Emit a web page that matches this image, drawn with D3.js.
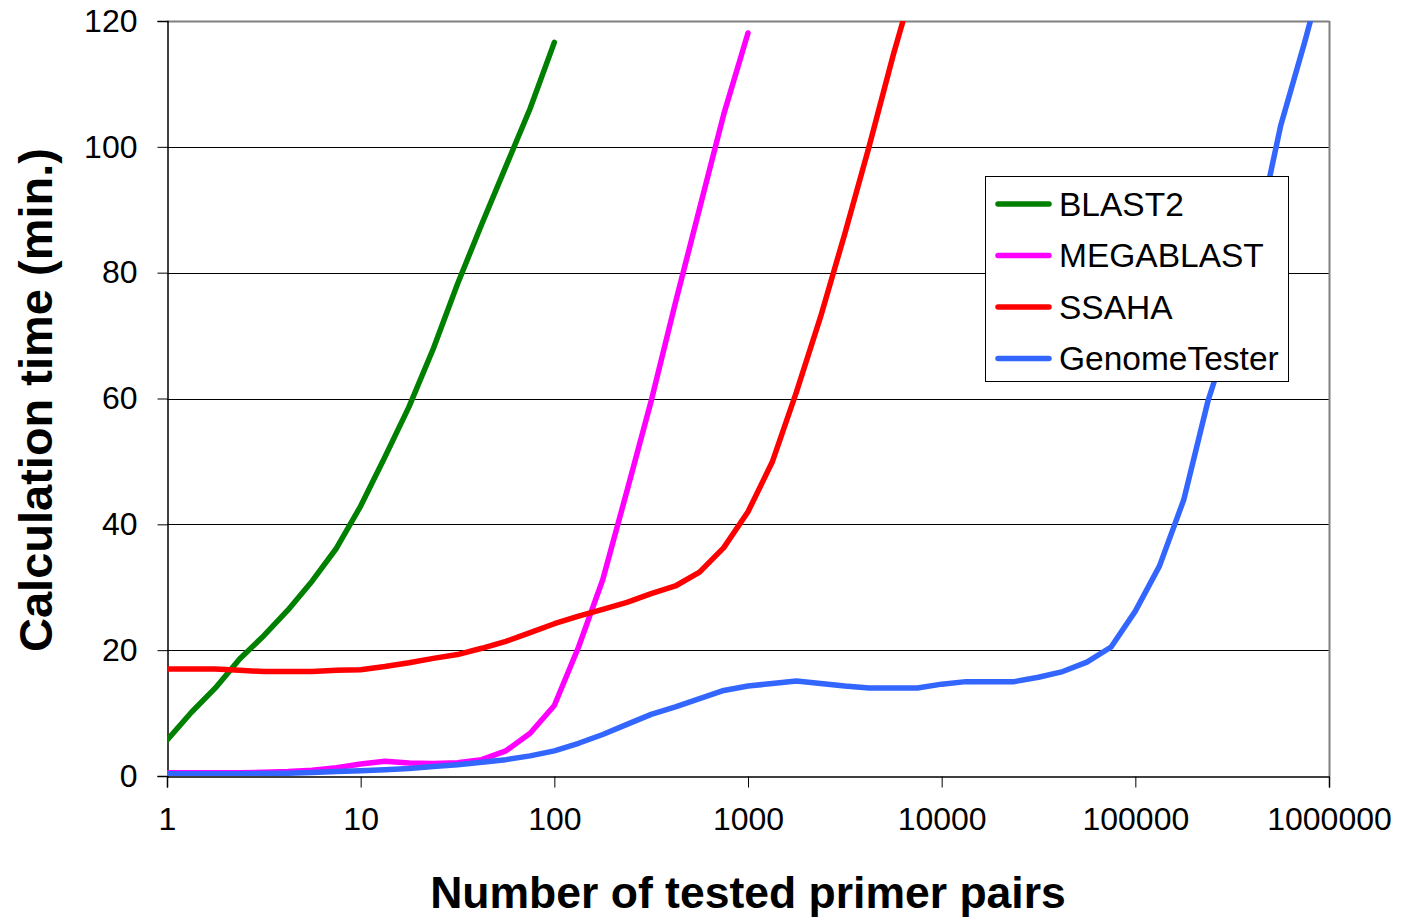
<!DOCTYPE html>
<html>
<head>
<meta charset="utf-8">
<script src="https://cdn.jsdelivr.net/npm/d3@7"></script>
<style>
  html, body { margin: 0; padding: 0; background: #fff; }
  svg { display: block; font-family: "Liberation Sans", Arial, sans-serif; }
</style>
</head>
<body>
<svg id="chart" width="1401" height="918"></svg>
<script>
// ---- data ----
const seriesNames = ["BLAST2", "MEGABLAST", "SSAHA", "GenomeTester"];
const seriesColors = ["#008000", "#FF00FF", "#FF0000", "#3366FF"];
const xValues = [1, 1.334, 1.778, 2.371, 3.162, 4.217, 5.623, 7.499,
  10, 13.34, 17.78, 23.71, 31.62, 42.17, 56.23, 74.99,
  100, 133.4, 177.8, 237.1, 316.2, 421.7, 562.3, 749.9,
  1000, 1334, 1778, 2371, 3162, 4217, 5623, 7499,
  10000, 13335, 17783, 23714, 31623, 42170, 56234, 74989,
  100000, 133352, 177828, 237137, 316228, 421697, 562341, 749894, 1000000];
const blast2 = [5.7, 10.1, 14.0, 18.6, 22.3, 26.4, 31.0, 36.2, 42.9, 50.7, 58.7, 67.9, 78.2, 87.7, 96.9, 106.1, 116.6];
const megablast = [0.5, 0.5, 0.5, 0.5, 0.6, 0.7, 0.9, 1.3, 1.9, 2.35, 2.05, 2.0, 2.1, 2.6, 4.0, 6.8, 11.2, 20.5, 31.2, 45.3, 59.6, 75.2, 90.2, 105.2, 118.1];
const ssaha = [17.0, 17.0, 17.0, 16.8, 16.6, 16.6, 16.6, 16.8, 16.9, 17.4, 18.0, 18.7, 19.3, 20.3, 21.4, 22.8, 24.2, 25.4, 26.5, 27.6, 29.0, 30.2, 32.4, 36.3, 42.0, 49.9, 61.0, 73.0, 86.2, 100.0, 114.6, 128.0];
const genomeTester = [0.35, 0.35, 0.35, 0.35, 0.4, 0.45, 0.55, 0.7, 0.85, 1.0, 1.2, 1.5, 1.8, 2.2, 2.6, 3.2, 4.0, 5.2, 6.6, 8.2, 9.8, 11.0, 12.3, 13.6, 14.3, 14.7, 15.1, 14.7, 14.3, 14.0, 14.0, 14.0, 14.6, 15.0, 15.0, 15.0, 15.7, 16.6, 18.1, 20.5, 26.2, 33.4, 43.9, 59.6, 71.6, 85.3, 103.3, 116.7, 131];
const xTicks = [1, 10, 100, 1000, 10000, 100000, 1000000];
const yTicks = [0, 20, 40, 60, 80, 100, 120];
const xTitle = "Number of tested primer pairs";
const yTitle = "Calculation time (min.)";

const allSeries = [blast2, megablast, ssaha, genomeTester];

// ---- layout ----
const L = 167, R = 1329, T = 21, B = 776;
const svg = d3.select("#chart");
const x = d3.scaleLog().domain([1, 1000000]).range([L, R]);
const y = d3.scaleLinear().domain([0, 120]).range([B, T]);

// gridlines
svg.append("g").selectAll("line").data(yTicks.filter(d => d > 0 && d < 120)).join("line")
  .attr("x1", L).attr("x2", R)
  .attr("y1", d => Math.round(y(d)) + 0.5).attr("y2", d => Math.round(y(d)) + 0.5)
  .attr("stroke", "#000").attr("stroke-width", 1);

// top & right border
svg.append("line").attr("x1", L).attr("x2", R + 0.5).attr("y1", T + 0.5).attr("y2", T + 0.5)
  .attr("stroke", "#808080").attr("stroke-width", 2);
svg.append("line").attr("x1", R + 0.5).attr("x2", R + 0.5).attr("y1", T).attr("y2", B)
  .attr("stroke", "#808080").attr("stroke-width", 2);

// axes
const yAxis = d3.axisLeft(y).tickValues(yTicks).tickSize(10).tickPadding(20).tickFormat(d3.format("d"));
const gy = svg.append("g").attr("transform", `translate(${L + 0.5},0)`).call(yAxis);
gy.select(".domain").attr("stroke", "#000").attr("stroke-width", 1.5);
gy.selectAll(".tick line").attr("stroke", "#000");
gy.selectAll(".tick text").attr("font-size", 32).attr("fill", "#000")
  .attr("font-family", '"Liberation Sans", Arial, sans-serif');

const xAxis = d3.axisBottom(x).tickValues(xTicks).tickSize(11).tickPadding(20).tickFormat(d3.format("d"));
const gx = svg.append("g").attr("transform", `translate(0,${B + 0.5})`).call(xAxis);
gx.select(".domain").attr("stroke", "#000").attr("stroke-width", 1.5);
gx.selectAll(".tick line").attr("stroke", "#000");
gx.selectAll(".tick text").attr("font-size", 32).attr("fill", "#000")
  .attr("font-family", '"Liberation Sans", Arial, sans-serif');

// clip
svg.append("clipPath").attr("id", "plotclip").append("rect")
  .attr("x", L).attr("y", T).attr("width", R - L).attr("height", B - T);

const line = d3.line().x(d => x(d[0])).y(d => y(d[1]));
const gl = svg.append("g").attr("clip-path", "url(#plotclip)");
allSeries.forEach((vals, i) => {
  const pts = vals.map((v, j) => [xValues[j], v]);
  gl.append("path").datum(pts)
    .attr("d", line)
    .attr("fill", "none")
    .attr("stroke", seriesColors[i])
    .attr("stroke-width", 5.5)
    .attr("stroke-linejoin", "round")
    .attr("stroke-linecap", "round");
});

// axis titles
svg.append("text").text(xTitle)
  .attr("x", 748).attr("y", 908)
  .attr("text-anchor", "middle").attr("font-weight", "bold").attr("font-size", 44.5).attr("fill", "#000");
svg.append("text").text(yTitle)
  .attr("transform", "translate(52,400) rotate(-90)")
  .attr("text-anchor", "middle").attr("font-weight", "bold").attr("font-size", 47).attr("fill", "#000");

// legend
const lg = svg.append("g");
lg.append("rect").attr("x", 985.5).attr("y", 176.5).attr("width", 303).attr("height", 205)
  .attr("fill", "#fff").attr("stroke", "#000").attr("stroke-width", 1);
seriesNames.forEach((name, i) => {
  const cy = 204 + i * 51.5;
  lg.append("line").attr("x1", 998).attr("x2", 1049).attr("y1", cy).attr("y2", cy)
    .attr("stroke", seriesColors[i]).attr("stroke-width", 5.5).attr("stroke-linecap", "round");
  lg.append("text").text(name).attr("x", 1059).attr("y", cy + 11.8)
    .attr("font-size", 33.5).attr("fill", "#000");
});
</script>
</body>
</html>
